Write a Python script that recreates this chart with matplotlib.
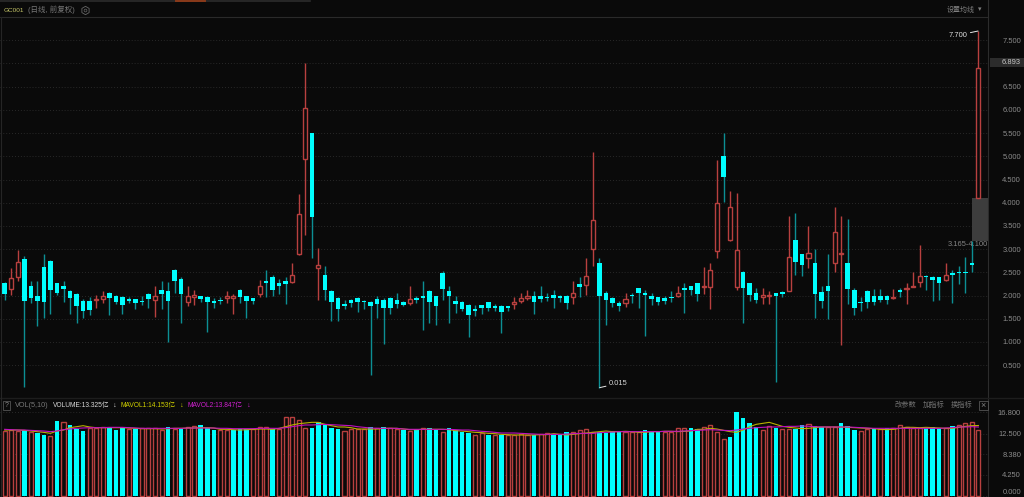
import matplotlib
matplotlib.use('Agg')
import matplotlib.pyplot as plt
from matplotlib.patches import Rectangle

plt.rcParams['font.family'] = ['Liberation Sans', 'Noto Sans CJK SC', 'DejaVu Sans']

opens = [2.26,2.14,2.39,2.79,2.20,2.00,2.61,2.75,2.26,2.20,
         2.10,2.04,1.89,1.89,1.90,1.92,2.06,2.00,1.97,1.91,
         1.92,1.89,2.04,1.90,2.11,2.09,2.56,2.36,1.87,1.97,
         1.99,1.97,1.89,1.89,1.94,1.95,2.11,1.98,1.94,2.03,
         2.31,2.39,2.26,2.31,2.29,2.89,4.95,5.50,2.59,2.45,
         2.09,1.94,1.81,1.91,1.94,1.89,1.86,1.93,1.91,1.94,
         1.90,1.86,1.84,1.94,2.00,2.09,1.99,2.49,2.09,1.89,
         1.86,1.80,1.69,1.79,1.85,1.77,1.77,1.76,1.82,1.88,
         1.95,2.00,1.99,1.96,2.01,2.00,2.00,1.97,2.25,2.22,
         3.00,2.71,2.06,1.94,1.84,1.84,2.00,2.16,2.05,2.00,
         1.96,1.94,1.96,1.99,2.16,2.20,2.26,2.19,2.19,2.95,
         5.01,3.19,2.18,2.51,2.26,2.06,1.96,1.99,2.05,2.06,
         2.09,3.20,2.89,2.80,2.70,2.08,2.20,2.69,2.89,2.70,
         2.11,1.85,2.09,2.00,1.99,2.00,1.94,2.10,2.15,2.19,
         2.29,2.42,2.39,2.39,2.34,2.47,2.51,2.51,2.70,4.10]
highs = [2.29,2.60,2.99,2.86,2.31,2.32,2.90,2.77,2.27,2.31,
         2.11,2.06,1.93,1.96,2.02,2.09,2.07,2.02,1.99,1.97,
         1.93,1.99,2.06,2.20,2.31,2.29,2.58,2.40,2.20,2.11,
         2.00,1.99,1.95,1.97,2.09,2.04,2.13,1.99,1.95,2.34,
         2.54,2.45,2.36,2.40,2.71,4.19,7.01,5.50,3.02,2.63,
         2.11,1.97,1.91,1.93,1.96,1.91,1.89,1.99,1.94,1.96,
         2.06,1.89,2.21,2.00,2.31,2.11,2.00,2.53,2.20,2.00,
         1.88,1.81,1.79,1.80,1.86,1.82,1.79,1.77,1.96,2.06,
         2.11,2.09,2.21,2.06,2.11,2.02,2.01,2.31,2.40,2.81,
         5.09,2.81,2.09,1.96,1.89,2.06,2.06,2.17,2.11,2.06,
         1.97,2.00,2.09,2.20,2.26,2.21,2.27,2.61,2.70,4.91,
         5.50,4.26,4.21,2.52,2.27,2.16,2.16,2.10,2.06,2.09,
         3.71,3.77,2.90,3.50,3.00,2.20,2.90,3.91,3.71,3.65,
         2.16,1.97,2.11,2.13,2.13,2.01,2.15,2.16,2.27,2.51,
         3.09,2.45,2.41,2.40,2.69,2.56,2.64,2.84,3.165,7.70]
lows = [1.91,2.02,2.31,0.02,1.83,1.34,1.51,1.61,2.01,1.87,
        1.61,1.41,1.51,1.59,1.74,1.83,1.59,1.81,1.61,1.83,
        1.70,1.79,1.74,1.54,1.70,1.00,2.06,1.40,1.77,1.79,
        1.86,1.22,1.74,1.81,1.84,1.60,1.84,1.51,1.81,1.97,
        1.97,2.00,2.04,1.81,2.26,2.87,3.30,2.81,1.91,1.91,
        1.46,1.45,1.72,1.75,1.64,1.71,0.29,1.51,0.95,1.61,
        1.74,1.77,1.80,1.83,1.26,1.40,1.36,1.91,1.40,1.63,
        1.66,1.11,1.56,1.60,1.66,1.67,1.19,1.66,1.71,1.84,
        1.90,1.61,1.86,1.88,1.74,1.87,1.71,1.81,1.96,2.02,
        2.64,0.015,1.36,1.75,1.66,1.76,1.84,1.74,1.12,1.79,
        1.79,1.81,1.87,1.97,1.63,2.02,1.88,2.04,1.72,2.81,
        4.02,3.17,2.11,1.41,1.88,1.83,1.81,1.81,0.14,1.96,
        2.09,2.44,2.41,2.59,1.52,1.74,1.50,2.50,0.93,1.81,
        1.59,1.66,1.74,1.79,1.87,1.82,1.92,1.97,1.81,2.19,
        2.19,2.11,1.89,1.91,2.32,1.83,2.24,2.06,2.50,4.10]
closes = [2.03,2.37,2.72,1.88,1.94,1.88,1.86,2.11,2.06,2.13,
          1.94,1.77,1.66,1.68,1.93,2.00,1.94,1.86,1.80,1.89,
          1.84,1.86,1.92,1.99,2.04,1.89,2.31,2.04,2.00,2.02,
          1.92,1.87,1.84,1.88,2.00,1.98,1.96,1.88,1.88,2.20,
          2.26,2.11,2.21,2.24,2.44,3.76,6.04,3.69,2.66,2.12,
          1.86,1.70,1.78,1.84,1.86,1.86,1.78,1.82,1.74,1.74,
          1.82,1.79,1.92,1.90,1.95,1.86,1.78,2.15,1.98,1.81,
          1.71,1.57,1.67,1.74,1.73,1.73,1.64,1.74,1.86,1.95,
          1.99,1.87,1.92,1.94,1.94,1.94,1.83,2.06,2.19,2.43,
          3.63,1.99,1.90,1.84,1.77,1.93,1.99,2.05,2.01,1.92,
          1.87,1.88,1.94,2.06,2.12,2.11,2.04,2.20,2.54,4.00,
          4.55,3.90,2.99,2.16,2.01,1.91,2.01,2.01,1.98,2.04,
          2.84,2.73,2.65,2.91,2.03,1.88,2.09,3.36,2.91,2.13,
          1.74,1.83,1.87,1.87,1.91,1.91,1.97,2.08,2.17,2.21,
          2.43,2.40,2.34,2.28,2.45,2.45,2.48,2.48,2.65,6.893]

volumes = [12.99,13.19,13.05,13.19,12.92,12.65,12.32,12.05,15.06,14.79,
           14.19,13.39,13.12,13.59,13.59,13.92,13.72,13.25,13.65,13.39,
           13.45,13.59,13.59,13.59,13.32,13.86,13.39,13.45,13.92,13.99,
           14.19,13.59,13.25,13.32,13.32,13.25,13.39,13.45,13.39,13.79,
           13.92,13.39,13.39,15.80,15.80,15.19,13.59,13.59,14.86,14.26,
           13.72,13.39,13.12,13.39,13.39,13.45,13.79,13.59,13.79,13.59,
           13.39,13.25,13.05,13.39,13.59,13.59,13.25,12.78,13.59,13.25,
           12.92,12.65,12.25,12.72,12.25,12.25,12.25,12.25,12.25,12.52,
           12.25,12.25,12.38,12.65,12.32,12.32,12.92,12.92,13.25,13.45,
           12.78,12.78,12.72,13.12,12.78,12.78,12.92,12.92,13.32,12.92,
           12.92,12.92,12.92,13.59,13.59,13.59,13.39,13.79,14.19,12.92,
           11.38,11.85,16.80,15.60,14.59,13.79,13.25,14.12,13.72,13.45,
           13.45,13.39,14.26,14.39,14.06,13.79,13.79,13.79,14.59,14.12,
           13.32,12.99,13.39,13.39,13.39,13.59,13.59,14.19,13.92,13.72,
           13.59,13.72,13.79,13.59,13.59,13.99,14.19,14.59,14.93,13.325]
# volume colours do not follow the candle colours, 1 = red outline
vol_up = [1,1,1,0,1,0,0,1,0,1,
          0,0,0,1,1,1,0,0,0,1,
          0,1,1,1,1,0,1,0,1,1,
          0,0,0,1,1,0,0,0,1,1,
          1,0,1,1,1,1,1,0,0,0,
          0,0,1,1,1,1,0,1,0,1,
          1,0,1,0,1,0,0,1,0,0,
          0,0,1,1,0,1,0,1,1,1,
          1,0,1,1,0,0,0,1,1,1,
          1,0,0,0,0,1,1,1,0,0,
          0,1,1,1,1,0,0,1,1,1,
          1,0,0,0,0,0,1,1,0,1,
          1,0,0,1,0,0,1,1,0,0,
          0,1,1,0,1,0,1,1,1,1,
          1,0,0,0,1,0,1,1,1,1]
mavol1 = [13.25,13.25,13.25,13.19,13.05,12.92,12.78,12.58,13.05,13.25,
          13.72,13.92,14.12,13.86,13.72,13.72,13.72,13.72,13.72,13.65,
          13.59,13.52,13.52,13.52,13.45,13.52,13.59,13.59,13.65,13.65,
          13.72,13.72,13.65,13.39,13.39,13.32,13.25,13.32,13.39,13.45,
          13.45,13.39,13.59,13.92,14.26,14.52,14.66,14.79,14.79,14.39,
          14.12,13.86,13.86,13.72,13.45,13.45,13.45,13.45,13.59,13.59,
          13.59,13.45,13.32,13.32,13.39,13.39,13.39,13.39,13.32,13.12,
          13.05,12.92,12.78,12.72,12.58,12.52,12.38,12.32,12.25,12.25,
          12.25,12.25,12.32,12.32,12.52,12.38,12.25,12.38,12.52,12.65,
          12.78,12.92,13.05,12.92,12.92,12.99,12.92,12.78,12.78,12.92,
          12.92,12.99,12.99,12.92,12.99,13.05,13.39,13.39,13.59,13.45,
          13.19,12.92,12.78,13.25,13.92,14.39,14.59,14.79,14.39,13.99,
          13.79,13.65,13.52,13.59,13.72,13.86,13.86,13.86,13.86,13.79,
          13.72,13.65,13.59,13.52,13.39,13.32,13.39,13.59,13.79,13.79,
          13.72,13.79,13.72,13.65,13.59,13.59,13.79,13.99,14.12,14.153]
mavol2 = [13.39,13.32,13.25,13.25,13.19,13.12,13.05,12.92,13.05,13.32,
          13.45,13.59,13.65,13.72,13.72,13.72,13.79,13.79,13.79,13.72,
          13.65,13.59,13.59,13.59,13.59,13.59,13.59,13.59,13.65,13.65,
          13.65,13.65,13.65,13.59,13.59,13.52,13.52,13.52,13.52,13.59,
          13.59,13.59,13.59,13.72,13.92,14.12,14.26,14.26,14.32,14.39,
          14.32,14.26,14.19,14.12,13.92,13.79,13.65,13.59,13.59,13.59,
          13.59,13.45,13.39,13.39,13.39,13.39,13.39,13.39,13.39,13.32,
          13.25,13.25,13.12,12.99,12.92,12.78,12.65,12.65,12.65,12.58,
          12.52,12.45,12.38,12.38,12.38,12.38,12.45,12.52,12.58,12.58,
          12.58,12.72,12.78,12.85,12.92,12.92,12.92,12.92,12.92,12.92,
          12.92,12.99,12.99,12.99,13.05,13.12,13.19,13.25,13.32,13.25,
          13.19,13.12,13.25,13.45,13.59,13.72,13.79,13.86,13.86,13.92,
          13.99,13.99,14.06,13.99,13.92,13.86,13.86,13.86,13.86,13.86,
          13.79,13.72,13.65,13.59,13.59,13.59,13.59,13.59,13.59,13.59,
          13.59,13.59,13.59,13.59,13.65,13.72,13.86,13.86,13.92,13.847]

price_ticks = [7.5, 7.0, 6.5, 6.0, 5.5, 5.0, 4.5, 4.0, 3.5, 3.0, 2.5, 2.0, 1.5, 1.0, 0.5]
vol_ticks = [16.8, 12.5, 8.38, 4.25, 0.0]
last_price = 6.893
gap_low = 3.165
gap_high = 4.100

W, H = 1024, 497
BG = '#0a0a0a'
CYAN = '#00ffff'
TEAL = '#0c8f94'
RED = '#b8403f'
GRID = '#333333'
AXIS_TEXT = '#8c8c8c'


def fx(x):
    return x / W


def fy(y):
    return 1 - y / H


fig = plt.figure(figsize=(W / 100, H / 100), dpi=100, facecolor=BG)
ax = fig.add_axes([0, fy(397), fx(988), fy(17) - fy(397)], facecolor=BG)
axv = fig.add_axes([0, 0, fx(988), fy(398)], facecolor=BG)

x = list(range(len(opens)))
# pixel 4.7 + 6.535 * i is where the candles sit
ax.set_xlim(-0.719, 150.47)
ax.set_ylim(-0.187, 8.002)
axv.set_xlim(-0.719, 150.47)
axv.set_ylim(-0.2, 19.68)

for a in (ax, axv):
    for s in ('top', 'left', 'bottom'):
        a.spines[s].set_visible(False)
    a.spines['right'].set_color('#2c2c2c')
    a.spines['right'].set_linewidth(0.8)
    a.set_xticks([])
    a.yaxis.tick_right()
    # labels are right aligned at about x=1021
    a.tick_params(axis='y', length=0, pad=23.8, labelsize=5.4, labelcolor=AXIS_TEXT)
    a.grid(axis='y', color=GRID, linestyle=(0, (1, 2.5)), linewidth=0.6)
    a.set_axisbelow(True)

ax.set_yticks(price_ticks)
ax.set_yticklabels(['' if t == 7.0 else f'{t:.3f}' for t in price_ticks], ha='right')
axv.set_yticks(vol_ticks)
axv.set_yticklabels([f'{t:.3f}' for t in vol_ticks], ha='right')
axv.get_yticklabels()[-1].set_va('bottom')

# gap between the last two candles
ax.add_patch(Rectangle((148.0, gap_low), 2.47, gap_high - gap_low, facecolor='#3d3d3d',
                       edgecolor='none', zorder=1.5))

for i in x:
    up = closes[i] >= opens[i]
    top = max(opens[i], closes[i])
    bot = min(opens[i], closes[i])
    ax.vlines(i, lows[i], highs[i], color=RED if up else TEAL, linewidth=1.0, zorder=2)
    if up:
        ax.bar(i, top - bot, bottom=bot, width=0.62, facecolor=BG, edgecolor=RED, linewidth=1.0, zorder=3)
    else:
        ax.bar(i, max(top - bot, 0.03), bottom=bot, width=0.70, color=CYAN, linewidth=0, zorder=3)

    if vol_up[i]:
        axv.bar(i, volumes[i], width=0.62, facecolor=BG, edgecolor=RED, linewidth=1.0, zorder=2)
    else:
        axv.bar(i, volumes[i], width=0.70, color=CYAN, linewidth=0, zorder=2)

axv.plot(x, mavol1, color='#b8b000', linewidth=0.8, zorder=3)
axv.plot(x, mavol2, color='#c010c0', linewidth=0.8, zorder=4)

# high and low notes
i_high = highs.index(max(highs))
i_low = lows.index(min(lows))
ax.annotate(f'{highs[i_high]:.3f}', xy=(i_high - 0.05, highs[i_high]), xytext=(-7.5, -3),
            textcoords='offset points', ha='right', va='center', color='#e0e0e0', fontsize=5.4,
            arrowprops=dict(arrowstyle='-', color='#e8e8e8', linewidth=0.7, shrinkA=0, shrinkB=0))
ax.annotate(f'{lows[i_low]:.3f}', xy=(i_low + 0.05, lows[i_low]), xytext=(6.5, 3),
            textcoords='offset points', ha='left', va='center', color='#d8d8d8', fontsize=5.4,
            arrowprops=dict(arrowstyle='-', color='#e8e8e8', linewidth=0.7, shrinkA=0, shrinkB=0))
ax.text(150.4, gap_low + 0.02, f'{gap_low:.3f}-{gap_high:.3f}', color='#858585', fontsize=5.4,
        ha='right', va='top', zorder=5)

# last price tag
fig.patches.append(Rectangle((fx(990), fy(67)), fx(34), fy(58) - fy(67), transform=fig.transFigure,
                             facecolor='#2c2c2c', edgecolor='none'))
fig.text(fx(1021), fy(62.5), f'{last_price:.3f}', color='#c8c8c8', fontsize=5.4, va='center', ha='right')

# frame lines
fig.add_artist(plt.Line2D([0, fx(988)], [fy(16.5), fy(16.5)], color='#2a2a2a', linewidth=0.8))
fig.add_artist(plt.Line2D([0, 1], [fy(397.5), fy(397.5)], color='#1d1d1d', linewidth=1.0))
fig.add_artist(plt.Line2D([fx(1), fx(1)], [0, fy(17)], color='#252525', linewidth=0.8))
fig.add_artist(plt.Line2D([fx(988), fx(988)], [fy(17), 1], color='#2c2c2c', linewidth=0.8))
fig.add_artist(plt.Line2D([0, fx(310)], [fy(1), fy(1)], color='#2c2c2c', linewidth=1.2))
fig.add_artist(plt.Line2D([fx(176), fx(205)], [fy(1), fy(1)], color='#8a3a1a', linewidth=1.4))

# header
fig.text(fx(4), fy(10), 'GC001', color='#c8c86a', fontsize=4.6, va='center')
fig.text(fx(28), fy(10), '(日线, 前复权)', color='#777777', fontsize=5.4, va='center')
fig.add_artist(plt.Line2D([fx(84.5)], [fy(10)], marker='h', markersize=6, markerfacecolor='none',
                          markeredgecolor='#666666', markeredgewidth=0.6, linestyle='none'))
fig.add_artist(plt.Line2D([fx(84.5)], [fy(10)], marker='o', markersize=2, markerfacecolor='none',
                          markeredgecolor='#666666', markeredgewidth=0.5, linestyle='none'))
fig.text(fx(947), fy(10), '设置均线', color='#808080', fontsize=5.0, va='center')
fig.text(fx(978), fy(10), '▾', color='#808080', fontsize=5.0, va='center')

# indicator legend
fig.patches.append(Rectangle((fx(3), fy(409.5)), fx(7), fy(401) - fy(409.5), transform=fig.transFigure,
                             facecolor='none', edgecolor='#555555', linewidth=0.6))
fig.text(fx(6.5), fy(405.5), '?', color='#888888', fontsize=5, va='center', ha='center')
fig.text(fx(15), fy(405.5), 'VOL(5,10)', color='#777777', fontsize=5.2, va='center')
fig.text(fx(53), fy(405.5), 'VOLUME:13.325亿', color='#d8d8d8', fontsize=4.8, va='center')
fig.text(fx(115), fy(405.5), '↓', color='#d8d8d8', fontsize=5.4, va='center', ha='center')
fig.text(fx(120.5), fy(405.5), 'MAVOL1:14.153亿', color='#d0d000', fontsize=4.8, va='center')
fig.text(fx(182), fy(405.5), '↓', color='#d0d000', fontsize=5.4, va='center', ha='center')
fig.text(fx(188), fy(405.5), 'MAVOL2:13.847亿', color='#d020d0', fontsize=4.8, va='center')
fig.text(fx(249), fy(405.5), '↓', color='#d020d0', fontsize=5.4, va='center', ha='center')
fig.text(fx(895), fy(405), '改参数', color='#707070', fontsize=5.2, va='center')
fig.text(fx(923), fy(405), '加指标', color='#707070', fontsize=5.2, va='center')
fig.text(fx(951), fy(405), '换指标', color='#707070', fontsize=5.2, va='center')
fig.patches.append(Rectangle((fx(978.5), fy(410)), fx(9), fy(400.5) - fy(410), transform=fig.transFigure,
                             facecolor='none', edgecolor='#555555', linewidth=0.6))
fig.text(fx(983), fy(405.2), '×', color='#808080', fontsize=6.5, va='center', ha='center')

fig.savefig('out.png', dpi=100, facecolor=BG)
